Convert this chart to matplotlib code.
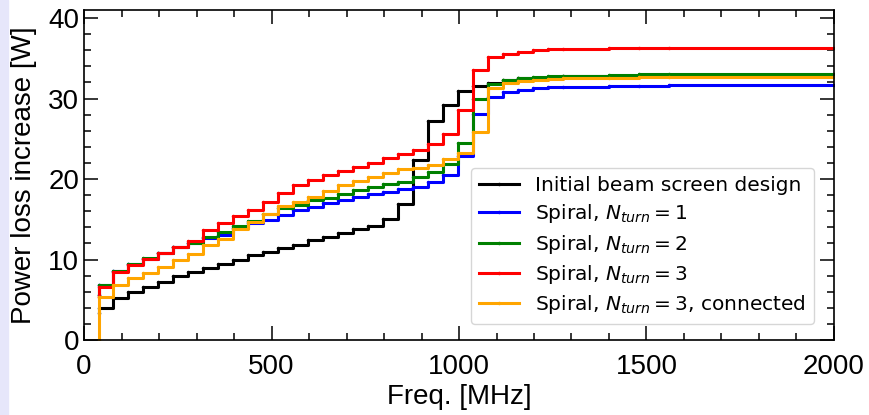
import matplotlib
matplotlib.use("Agg")
import matplotlib.pyplot as plt
from matplotlib.patches import Rectangle
from matplotlib.ticker import MultipleLocator

# frequencies where the cumulative power loss steps up [MHz]
freq = [40, 78, 118, 158, 198, 238, 278, 318, 358, 398,
        438, 478, 518, 558, 598, 638, 678, 718, 758, 798,
        838, 878, 918, 958, 998, 1038, 1078, 1118, 1158, 1198,
        1238, 1278, 1400, 1480, 1560, 2000]

# level reached just before the first step [W]
start_initial = 3.3
start_n1 = 5.6
start_n2 = 5.6
start_n3 = 5.4
start_n3_conn = 0.0

# cumulative power loss increase after each step [W]
p_initial = [3.94, 5.17, 5.95, 6.63, 7.25, 7.9, 8.49, 9.0, 9.5, 9.95,
             10.5, 10.9, 11.4, 11.8, 12.4, 12.84, 13.25, 13.75, 14.2, 15.0,
             16.9, 22.36, 27.25, 29.2, 30.9, 31.55, 31.97, 32.3, 32.5, 32.6,
             32.7, 32.75, 32.8, 32.85, 32.9, 32.9]
p_n1 = [6.8, 8.6, 9.44, 10.1, 10.76, 11.5, 12.0, 12.63, 13.1, 13.87,
        14.5, 14.95, 15.5, 16.15, 16.56, 16.98, 17.4, 17.8, 18.1, 18.4,
        18.7, 19.05, 19.6, 20.5, 22.8, 28.1, 30.2, 30.85, 31.05, 31.26,
        31.4, 31.47, 31.5, 31.6, 31.65, 31.65]
p_n2 = [6.8, 8.6, 9.44, 10.14, 10.8, 11.5, 12.0, 12.84, 13.46, 14.16,
        14.8, 15.6, 16.4, 16.77, 17.4, 17.7, 18.2, 18.6, 19.05, 19.4,
        19.67, 20.3, 20.9, 21.9, 24.5, 29.9, 31.8, 32.3, 32.6, 32.7,
        32.8, 32.85, 32.9, 33.0, 33.07, 33.07]
p_n3 = [6.6, 8.5, 9.3, 10.1, 10.85, 11.6, 12.3, 13.66, 14.5, 15.4,
        16.2, 17.2, 18.3, 19.25, 19.9, 20.5, 21.0, 21.5, 22.0, 22.56,
        23.1, 23.6, 24.35, 25.6, 28.6, 33.5, 35.1, 35.55, 35.8, 36.0,
        36.1, 36.2, 36.3, 36.3, 36.3, 36.3]
p_n3_conn = [5.4, 6.83, 7.66, 8.28, 9.1, 9.94, 10.68, 11.8, 12.5, 13.75,
             14.7, 15.65, 16.7, 17.2, 17.8, 18.55, 19.25, 19.8, 20.2, 20.8,
             21.2, 21.4, 21.7, 22.5, 23.2, 25.9, 31.3, 31.95, 32.15, 32.3,
             32.45, 32.55, 32.6, 32.65, 32.7, 32.7]

plt.rcParams['font.family'] = ['Liberation Sans', 'DejaVu Sans']

fig = plt.figure(figsize=(8.69, 4.15), dpi=100)
fig.patches.append(Rectangle((0, 0), 8 / 869, 1, transform=fig.transFigure,
                             color='#e6e6fa', zorder=0))
ax = fig.add_axes([0.0967, 0.1807, 0.8630, 0.7952])

curves = [
    (start_initial, p_initial, 'black', 'Initial beam screen design'),
    (start_n1, p_n1, 'blue', r'Spiral, $N_{turn}=1$'),
    (start_n2, p_n2, 'green', r'Spiral, $N_{turn}=2$'),
    (start_n3, p_n3, 'red', r'Spiral, $N_{turn}=3$'),
    (start_n3_conn, p_n3_conn, 'orange', r'Spiral, $N_{turn}=3$, connected'),
]
for s, p, c, lab in curves:
    ax.step([freq[0]] + freq, [s] + p, where='post', color=c, lw=2.2,
            marker='.', ms=3, label=lab)

ax.set_xlim(0, 2000)
ax.set_ylim(0, 41)
ax.xaxis.set_major_locator(MultipleLocator(500))
ax.xaxis.set_minor_locator(MultipleLocator(100))
ax.yaxis.set_major_locator(MultipleLocator(10))
ax.yaxis.set_minor_locator(MultipleLocator(2))
ax.tick_params(which='both', direction='in', top=True, right=True, labelsize=20)
ax.tick_params(which='major', length=10, width=1.1)
ax.tick_params(which='minor', length=5, width=1.1)
ax.tick_params(axis='x', which='both', pad=10)
for sp in ax.spines.values():
    sp.set_linewidth(1.2)

ax.set_xlabel('Freq. [MHz]', fontsize=20, labelpad=3)
ax.set_ylabel('Power loss increase [W]', fontsize=20, labelpad=8)

ax.legend(loc='lower right', bbox_to_anchor=(0.973, 0.048), borderaxespad=0,
          prop={'family': 'DejaVu Sans', 'size': 14.5}, handlelength=2.0,
          labelspacing=0.36, borderpad=0.4)

fig.savefig('out.png', dpi=100, facecolor='white')
